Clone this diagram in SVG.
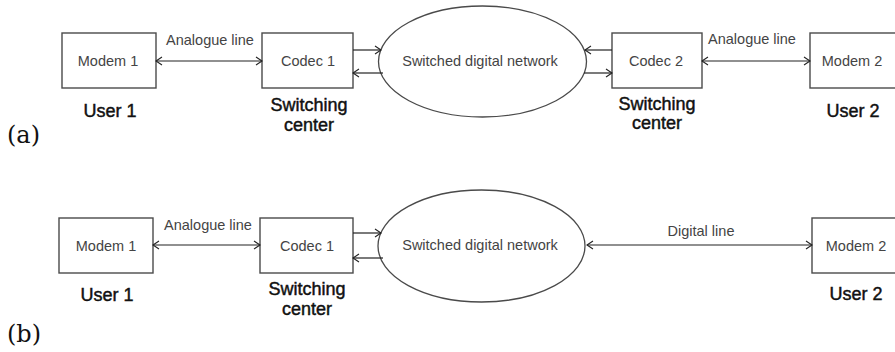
<svg xmlns="http://www.w3.org/2000/svg" width="895" height="352" viewBox="0 0 895 352">
<defs>
<style>
.box{fill:#fff;stroke:#4a4a4a;stroke-width:1.4}
.net{fill:#fff;stroke:#4a4a4a;stroke-width:1.3}
.lbl{font-family:"Liberation Sans",Arial,sans-serif;font-size:14.5px;fill:#444;text-anchor:middle}
.cap{font-family:"Liberation Sans",Arial,sans-serif;font-size:18px;fill:#111;stroke:#111;stroke-width:0.45;text-anchor:middle}
.tag{font-family:"DejaVu Serif","Liberation Serif",serif;font-size:24px;fill:#111}
.ln{fill:none;stroke:#222;stroke-width:1.2}
.a2{marker-start:url(#ah);marker-end:url(#ah)}
.a1{marker-end:url(#ah)}
</style>
<marker id="ah" viewBox="0 0 8 10" refX="7" refY="5" markerWidth="8" markerHeight="10" markerUnits="userSpaceOnUse" orient="auto-start-reverse">
<path d="M1,1 L7,5 L1,9" fill="none" stroke="#222" stroke-width="1.1"/>
</marker>
</defs>

<g id="a-modem1"><rect class="box" x="62" y="33" width="94" height="55"/><text class="lbl" x="108" y="66">Modem 1</text></g>
<g id="a-codec1"><rect class="box" x="262" y="33" width="91" height="55"/><text class="lbl" x="308" y="66">Codec 1</text></g>
<g id="a-network"><ellipse class="net" cx="482.5" cy="61.5" rx="104" ry="55.5"/><text class="lbl" x="480" y="66">Switched digital network</text></g>
<g id="a-codec2"><rect class="box" x="612" y="33" width="90" height="55"/><text class="lbl" x="656" y="66">Codec 2</text></g>
<g id="a-modem2"><rect class="box" x="810" y="33" width="95" height="55"/><text class="lbl" x="852" y="66">Modem 2</text></g>
<g id="a-labels">
<text class="cap" x="110" y="117">User 1</text>
<text class="cap" x="309" y="111">Switching</text><text class="cap" x="309" y="131">center</text>
<text class="cap" x="657" y="110">Switching</text><text class="cap" x="657" y="129">center</text>
<text class="cap" x="853" y="117">User 2</text>
<text class="tag" x="7" y="143">(a)</text>
</g>

<g id="b-modem1"><rect class="box" x="59" y="218" width="94" height="55"/><text class="lbl" x="106" y="251">Modem 1</text></g>
<g id="b-codec1"><rect class="box" x="260" y="218" width="93" height="55"/><text class="lbl" x="307" y="251">Codec 1</text></g>
<g id="b-network"><ellipse class="net" cx="481.5" cy="246" rx="103.5" ry="56"/><text class="lbl" x="480" y="250">Switched digital network</text></g>
<g id="b-modem2"><rect class="box" x="812" y="218" width="95" height="55"/><text class="lbl" x="856" y="251">Modem 2</text></g>
<g id="b-labels">
<text class="cap" x="107" y="301">User 1</text>
<text class="cap" x="307" y="295">Switching</text><text class="cap" x="307" y="315">center</text>
<text class="cap" x="856" y="300">User 2</text>
<text class="tag" x="7" y="342">(b)</text>
</g>

<g id="connectors">
<line class="ln a2" x1="156" y1="61" x2="262" y2="61"/>
<line class="ln a1" x1="353" y1="50" x2="381" y2="50"/>
<line class="ln a1" x1="383" y1="73" x2="353" y2="73"/>
<line class="ln a1" x1="612" y1="50" x2="585" y2="50"/>
<line class="ln a1" x1="584" y1="73" x2="612" y2="73"/>
<line class="ln a2" x1="702" y1="61" x2="810" y2="61"/>
<line class="ln a2" x1="153" y1="245" x2="260" y2="245"/>
<line class="ln a1" x1="353" y1="233" x2="381" y2="233"/>
<line class="ln a1" x1="383" y1="258" x2="353" y2="258"/>
<line class="ln a2" x1="587" y1="245" x2="812" y2="245"/>
<text class="lbl" x="210" y="45">Analogue line</text>
<text class="lbl" x="752" y="44">Analogue line</text>
<text class="lbl" x="208" y="230">Analogue line</text>
<text class="lbl" x="701" y="236">Digital line</text>
</g>
</svg>
